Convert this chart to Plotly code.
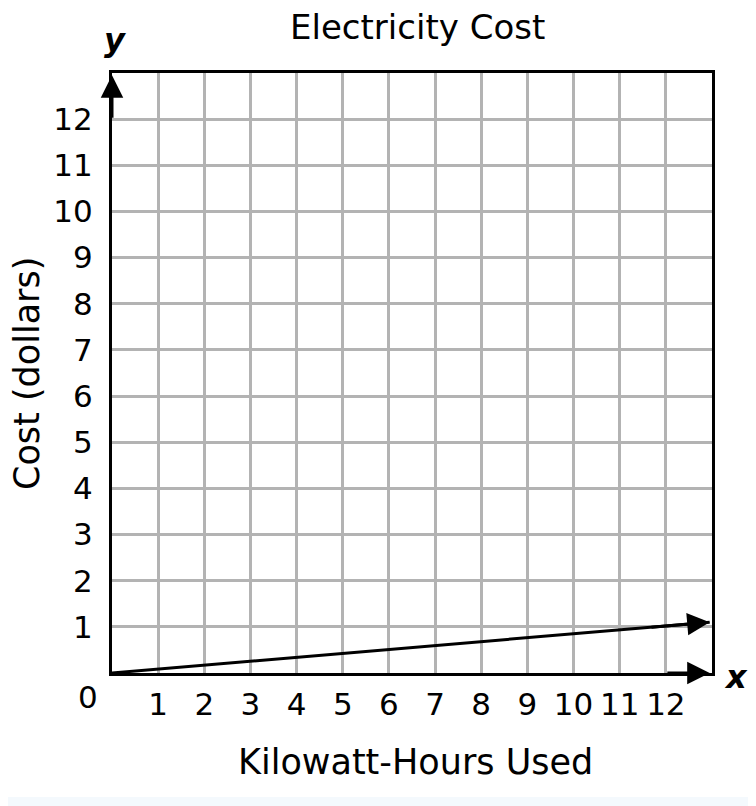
import plotly.graph_objects as go

# ---- data ----
title_text = "Electricity Cost"
x_title = "Kilowatt-Hours Used"
y_title = "Cost (dollars)"
x_ticks = [1, 2, 3, 4, 5, 6, 7, 8, 9, 10, 11, 12]
y_ticks = [1, 2, 3, 4, 5, 6, 7, 8, 9, 10, 11, 12]
x_tick_labels = [str(v) for v in x_ticks]
y_tick_labels = [str(v) for v in y_ticks]
axis_max = 13
line_x = [0, 12.95]
line_y = [0, 1.1]

FONT = "DejaVu Sans"
OFF = 8  # default body margin of the page
W, H = 756 - OFF, 806 - OFF
L, R, T, B = 112 - OFF, 756 - 712, 73 - OFF, 806 - 673
PW, PH = W - L - R, H - T - B


def px(xp):  # page pixel -> paper x
    return (xp - OFF - L) / PW


def py(yp):  # page pixel -> paper y
    return (T + PH - (yp - OFF)) / PH


fig = go.Figure()

fig.add_trace(go.Scatter(x=line_x, y=line_y, mode="lines",
                         line=dict(color="black", width=3),
                         hoverinfo="skip", showlegend=False))

arrow_style = dict(xref="x", yref="y", axref="x", ayref="y", text="",
                   showarrow=True, arrowhead=2, arrowsize=1.5, arrowwidth=3,
                   arrowcolor="black")
annotations = [
    dict(x=line_x[-1], y=line_y[-1],
         ax=line_x[-2] + (line_x[-1] - line_x[-2]) * 0.9,
         ay=line_y[-2] + (line_y[-1] - line_y[-2]) * 0.9, **arrow_style),
    dict(x=axis_max - 0.05, y=0, ax=axis_max - 1, ay=0, **arrow_style),
    dict(x=0, y=axis_max - 0.05, ax=0, ay=axis_max - 1, **arrow_style),
]

annotations += [
    dict(x=px(417), y=py(27), xref="paper", yref="paper", text=title_text,
         showarrow=False, font=dict(family=FONT, size=34, color="black"),
         xanchor="center", yanchor="middle"),
    dict(x=px(415), y=py(762), xref="paper", yref="paper", text=x_title,
         showarrow=False, font=dict(family=FONT, size=35, color="black"),
         xanchor="center", yanchor="middle"),
    dict(x=px(27), y=py(374), xref="paper", yref="paper", text=y_title,
         showarrow=False, textangle=-90, font=dict(family=FONT, size=35, color="black"),
         xanchor="center", yanchor="middle"),
    dict(x=px(115), y=py(40), xref="paper", yref="paper", text="<b><i>y</i></b>",
         showarrow=False, font=dict(family=FONT, size=32, color="black"),
         xanchor="center", yanchor="middle"),
    dict(x=px(736), y=py(677), xref="paper", yref="paper", text="<b><i>x</i></b>",
         showarrow=False, font=dict(family=FONT, size=32, color="black"),
         xanchor="center", yanchor="middle"),
    dict(x=px(88), y=py(697), xref="paper", yref="paper", text="0",
         showarrow=False, font=dict(family=FONT, size=31, color="black"),
         xanchor="center", yanchor="middle"),
]

axis_common = dict(showgrid=True, gridcolor="#b3b3b3", gridwidth=2.5,
                   showline=True, linecolor="black", linewidth=3, mirror=True,
                   zeroline=False, ticks="", range=[0, axis_max],
                   tickfont=dict(family=FONT, size=31, color="black"),
                   fixedrange=True)

fig.update_layout(
    width=W, height=H,
    margin=dict(l=L, r=R, t=T, b=B),
    paper_bgcolor="white", plot_bgcolor="white",
    xaxis=dict(**axis_common, tickmode="array", tickvals=x_ticks,
               ticktext=x_tick_labels, ticklabelstandoff=2),
    yaxis=dict(**axis_common, tickmode="array", tickvals=y_ticks,
               ticktext=y_tick_labels, ticklabelstandoff=10),
    annotations=annotations,
    shapes=[dict(type="rect", xref="paper", yref="paper",
                 x0=px(0), x1=px(756), y0=py(806), y1=py(797),
                 fillcolor="#f4f9fd", line=dict(width=0), layer="below")],
    showlegend=False,
)

fig.write_html("out.html")
